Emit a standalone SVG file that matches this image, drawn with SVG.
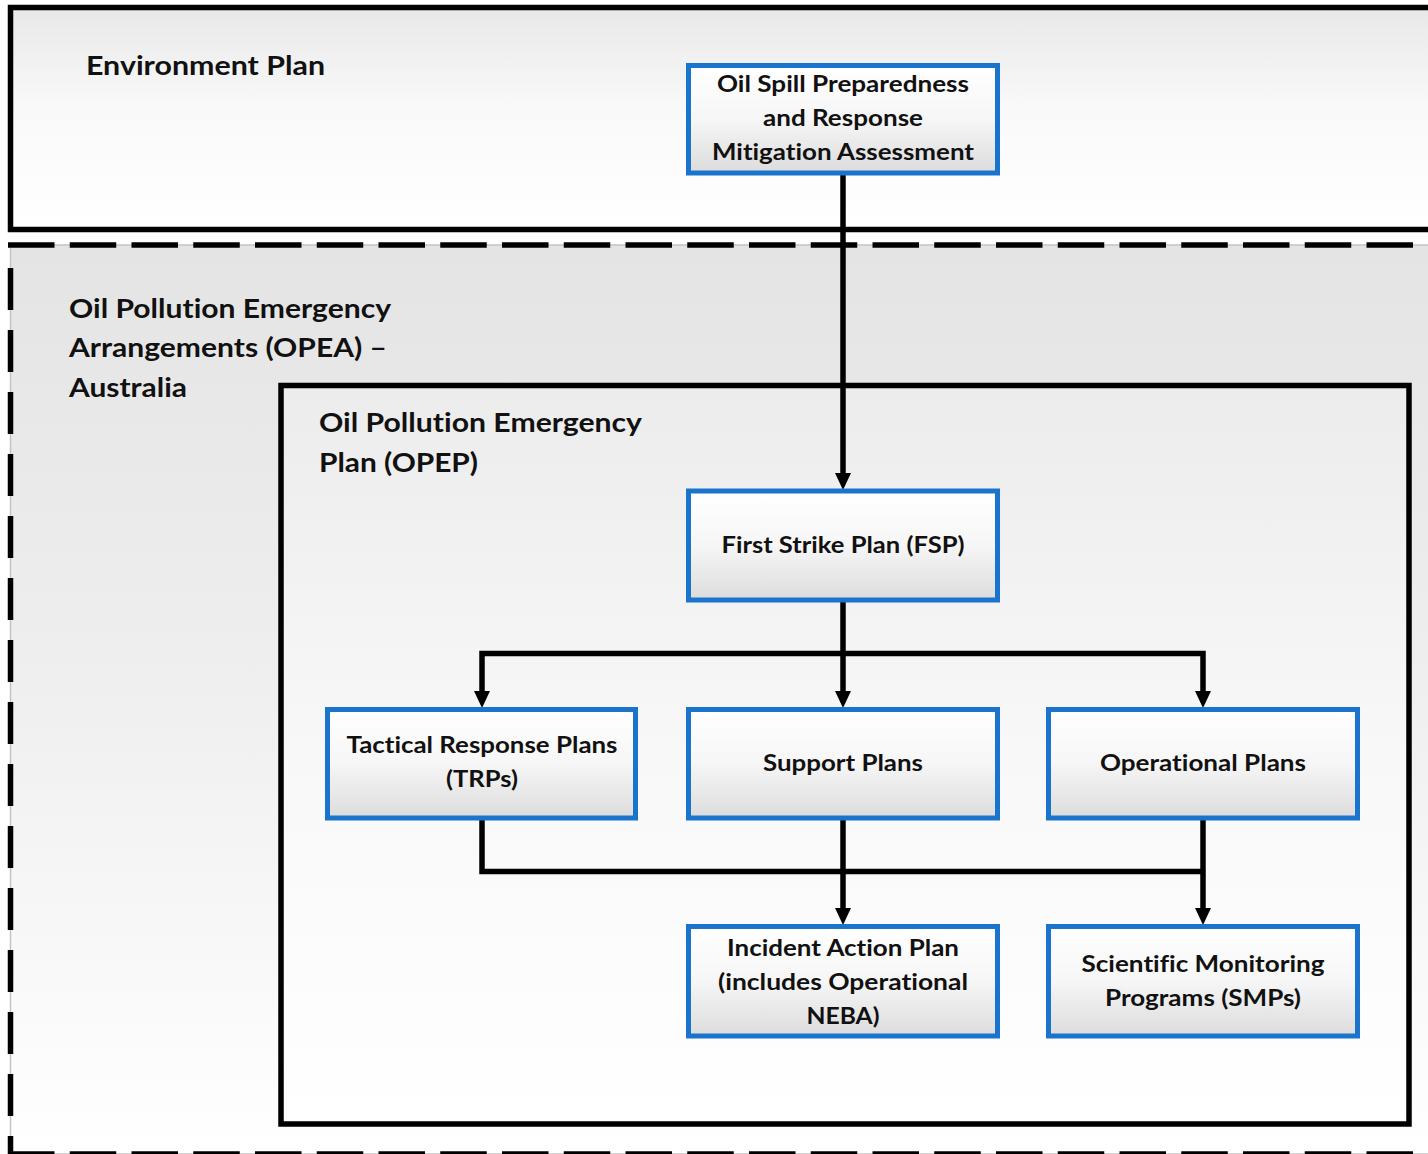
<svg xmlns="http://www.w3.org/2000/svg" width="1428" height="1154" viewBox="0 0 1428 1154">
<style>
  .hdr { font-family: Lato, "Open Sans", "Liberation Sans", sans-serif; font-weight: bold; font-size: 26.5px; fill: #111; font-variant-ligatures: none; }
  .lbl { font-family: Lato, "Open Sans", "Liberation Sans", sans-serif; font-weight: bold; font-size: 23.5px; fill: #111; text-anchor: middle; font-variant-ligatures: none; }
  .node { fill: url(#nodeGrad); stroke: #1a74cc; stroke-width: 5; }
  .frame { stroke: #000; stroke-width: 5.5; }
  .conn { fill: none; stroke: #000; stroke-width: 5.5; }
  .dash { stroke: #000; stroke-width: 5.5; fill: none; }
</style>
<defs>
  <linearGradient id="envGrad" x1="0" y1="0" x2="0" y2="1">
    <stop offset="0" stop-color="#e8e8e8"/>
    <stop offset="0.45" stop-color="#f9f9f9"/>
    <stop offset="1" stop-color="#ffffff"/>
  </linearGradient>
  <linearGradient id="opeaGrad" x1="0" y1="0" x2="0" y2="1">
    <stop offset="0" stop-color="#e4e4e4"/>
    <stop offset="0.45" stop-color="#eeeeee"/>
    <stop offset="1" stop-color="#ffffff"/>
  </linearGradient>
  <linearGradient id="opepGrad" x1="0" y1="0" x2="0" y2="1">
    <stop offset="0" stop-color="#ececec"/>
    <stop offset="0.5" stop-color="#f8f8f8"/>
    <stop offset="1" stop-color="#ffffff"/>
  </linearGradient>
  <linearGradient id="nodeGrad" x1="0" y1="0" x2="0" y2="1">
    <stop offset="0" stop-color="#ffffff"/>
    <stop offset="0.5" stop-color="#f6f6f6"/>
    <stop offset="1" stop-color="#dcdcdc"/>
  </linearGradient>
  <marker id="arrow" markerUnits="userSpaceOnUse" markerWidth="17" markerHeight="16" refX="0" refY="8" orient="auto" viewBox="0 0 17 16">
    <path d="M0,0 L17,8 L0,16 z" fill="#000"/>
  </marker>
</defs>

<rect width="1428" height="1154" fill="#ffffff"/>

<g id="environment-plan">
  <rect class="frame" x="10.5" y="7.5" width="1500" height="222" fill="url(#envGrad)"/>
  <text class="hdr" x="86" y="75" textLength="239" lengthAdjust="spacingAndGlyphs">Environment Plan</text>
</g>

<g id="opea">
  <rect x="10.5" y="245" width="1500" height="909" fill="url(#opeaGrad)" stroke="#c4c4c4" stroke-width="1.5"/>
  <line class="dash" x1="8" y1="245" x2="1428" y2="245" stroke-dasharray="46.5 15.25"/>
  <line class="dash" x1="10.5" y1="268" x2="10.5" y2="1154" stroke-dasharray="42 20"/>
  <line class="dash" x1="8" y1="1154" x2="1428" y2="1154" stroke-dasharray="46.5 15.25"/>
  <text class="hdr" x="69" y="318" textLength="322" lengthAdjust="spacingAndGlyphs">Oil Pollution Emergency</text>
  <text class="hdr" x="69" y="357" textLength="318" lengthAdjust="spacingAndGlyphs">Arrangements (OPEA) –</text>
  <text class="hdr" x="69" y="397" textLength="118" lengthAdjust="spacingAndGlyphs">Australia</text>
</g>

<g id="opep">
  <rect class="frame" x="281" y="385.5" width="1128" height="738.5" fill="url(#opepGrad)"/>
  <text class="hdr" x="319" y="432" textLength="323" lengthAdjust="spacingAndGlyphs">Oil Pollution Emergency</text>
  <text class="hdr" x="319" y="472" textLength="159" lengthAdjust="spacingAndGlyphs">Plan (OPEP)</text>
</g>

<g id="connectors">
  <path class="conn" d="M843,173 L843,473" marker-end="url(#arrow)"/>
  <path class="conn" d="M843,600 L843,691" marker-end="url(#arrow)"/>
  <path class="conn" d="M843,653.5 L482,653.5 L482,691" marker-end="url(#arrow)"/>
  <path class="conn" d="M843,653.5 L1203,653.5 L1203,691" marker-end="url(#arrow)"/>
  <path class="conn" d="M482,818 L482,871.5 L1203,871.5"/>
  <path class="conn" d="M843,818 L843,908" marker-end="url(#arrow)"/>
  <path class="conn" d="M1203,818 L1203,908" marker-end="url(#arrow)"/>
</g>

<g id="node-osprma">
  <rect class="node" x="688.5" y="65.5" width="309" height="107.5"/>
  <text class="lbl" x="843" y="92" textLength="252" lengthAdjust="spacingAndGlyphs">Oil Spill Preparedness</text>
  <text class="lbl" x="843" y="126" textLength="160" lengthAdjust="spacingAndGlyphs">and Response</text>
  <text class="lbl" x="843" y="160" textLength="262" lengthAdjust="spacingAndGlyphs">Mitigation Assessment</text>
</g>

<g id="node-fsp">
  <rect class="node" x="688.5" y="491" width="309" height="109"/>
  <text class="lbl" x="843" y="553" textLength="243" lengthAdjust="spacingAndGlyphs">First Strike Plan (FSP)</text>
</g>

<g id="node-trp">
  <rect class="node" x="327.5" y="709.5" width="308" height="108.5"/>
  <text class="lbl" x="482" y="753" textLength="271" lengthAdjust="spacingAndGlyphs">Tactical Response Plans</text>
  <text class="lbl" x="482" y="787" textLength="72" lengthAdjust="spacingAndGlyphs">(TRPs)</text>
</g>

<g id="node-support">
  <rect class="node" x="688.5" y="709.5" width="309" height="108.5"/>
  <text class="lbl" x="843" y="771" textLength="160" lengthAdjust="spacingAndGlyphs">Support Plans</text>
</g>

<g id="node-operational">
  <rect class="node" x="1048.5" y="709.5" width="309" height="108.5"/>
  <text class="lbl" x="1203" y="771" textLength="206" lengthAdjust="spacingAndGlyphs">Operational Plans</text>
</g>

<g id="node-iap">
  <rect class="node" x="688.5" y="926.5" width="309" height="109.5"/>
  <text class="lbl" x="843" y="955.5" textLength="232" lengthAdjust="spacingAndGlyphs">Incident Action Plan</text>
  <text class="lbl" x="843" y="989.5" textLength="250" lengthAdjust="spacingAndGlyphs">(includes Operational</text>
  <text class="lbl" x="843" y="1023.5" textLength="73" lengthAdjust="spacingAndGlyphs">NEBA)</text>
</g>

<g id="node-smp">
  <rect class="node" x="1048.5" y="926.5" width="309" height="109.5"/>
  <text class="lbl" x="1203" y="972" textLength="243" lengthAdjust="spacingAndGlyphs">Scientific Monitoring</text>
  <text class="lbl" x="1203" y="1006" textLength="196" lengthAdjust="spacingAndGlyphs">Programs (SMPs)</text>
</g>
</svg>
